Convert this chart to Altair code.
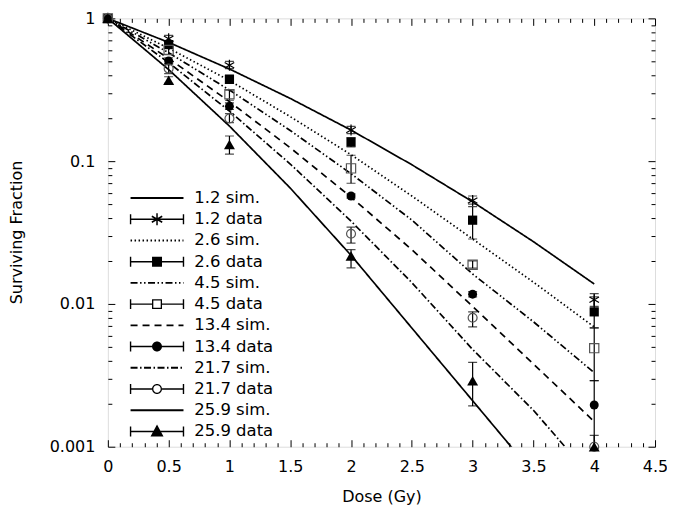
import math
import altair as alt
import pandas as pd

# ---------------- data ----------------
series = ["1.2", "2.6", "4.5", "13.4", "21.7", "25.9"]

sim_dose = [0, 0.5, 1, 1.5, 2, 2.5, 3, 3.5, 4]
sim_1_2 = [1, 0.679, 0.442, 0.275, 0.165, 0.0944, 0.0519, 0.0273, 0.0138]
sim_2_6 = [1, 0.618, 0.367, 0.205, 0.111, 0.057, 0.0285, 0.0142, 0.0069]
sim_4_5 = [1, 0.574, 0.315, 0.164, 0.0817, 0.0387, 0.0162, 0.0075, 0.0033]
sim_13_4 = [1, 0.524, 0.261, 0.124, 0.056, 0.024, 0.0096, 0.0038, 0.0015]
sim_21_7 = [1, 0.49, 0.224, 0.0955, 0.038, 0.0141, 0.0048, 0.0018, 0.00058]
sim_25_9 = [1, 0.438, 0.176, 0.0648, 0.0219, 0.00678, 0.0021, 0.00065, 0.00016]

data_dose = [0, 0.5, 1, 2, 3, 4]
data_1_2 = [1, 0.72, 0.47, 0.165, 0.053, 0.0107]
data_2_6 = [1, 0.655, 0.374, 0.136, 0.0386, 0.0088]
data_4_5 = [1, 0.60, 0.294, 0.089, 0.0188, 0.0049]
data_13_4 = [1, 0.503, 0.242, 0.057, 0.0117, 0.00196]
data_21_7 = [1, 0.445, 0.199, 0.031, 0.008, 0.001]
data_25_9 = [1, 0.368, 0.131, 0.0217, 0.0029, 0.001]

lo_1_2 = [None, 0.69, 0.445, 0.156, 0.050, 0.0096]
hi_1_2 = [None, 0.76, 0.50, 0.175, 0.057, 0.0118]
lo_2_6 = [None, 0.62, 0.35, 0.126, 0.0285, 0.0068]
hi_2_6 = [None, 0.69, 0.40, 0.146, 0.048, 0.0112]
lo_4_5 = [None, 0.56, 0.267, 0.070, 0.0178, 0.0029]
hi_4_5 = [None, 0.64, 0.314, 0.110, 0.0200, 0.0068]
lo_13_4 = [None, 0.48, 0.23, 0.055, 0.0112, 0.0009]
hi_13_4 = [None, 0.53, 0.256, 0.059, 0.0122, 0.0029]
lo_21_7 = [None, 0.41, 0.186, 0.0267, 0.0069, 0.0009]
hi_21_7 = [None, 0.48, 0.215, 0.0345, 0.0088, 0.0012]
lo_25_9 = [None, 0.35, 0.112, 0.0179, 0.00193, None]
hi_25_9 = [None, 0.39, 0.150, 0.0240, 0.0039, None]

sim_vals = [sim_1_2, sim_2_6, sim_4_5, sim_13_4, sim_21_7, sim_25_9]
data_vals = [data_1_2, data_2_6, data_4_5, data_13_4, data_21_7, data_25_9]
lo_vals = [lo_1_2, lo_2_6, lo_4_5, lo_13_4, lo_21_7, lo_25_9]
hi_vals = [hi_1_2, hi_2_6, hi_4_5, hi_13_4, hi_21_7, hi_25_9]

x_ticks = [round(i * 0.1, 1) for i in range(46)]
y_ticks = [round(m * 10.0 ** e, 6) for e in (-3, -2, -1) for m in range(1, 10)] + [1]

# ---------------- tables ----------------
sim_df = pd.DataFrame([
    {"series": s, "dose": d, "sf": v}
    for s, vals in zip(series, sim_vals) for d, v in zip(sim_dose, vals)
])
pts_df = pd.DataFrame([
    {"series": s, "dose": d, "sf": v}
    for s, vals in zip(series, data_vals) for d, v in zip(data_dose, vals)
])
err_df = pd.DataFrame([
    {"series": s, "dose": d, "lo": l, "hi": h}
    for s, ls, hs in zip(series, lo_vals, hi_vals)
    for d, l, h in zip(data_dose, ls, hs) if l is not None
])
cap_df = pd.DataFrame(
    [{"dose": r.dose, "sf": r.lo} for r in err_df.itertuples()]
    + [{"dose": r.dose, "sf": r.hi} for r in err_df.itertuples()]
)

legend_labels = []
for s in series:
    legend_labels += [f"{s} sim.", f"{s} data"]
helper_df = pd.DataFrame({"label": legend_labels, "dose": -1.0, "sf": 1e-5})

# ---------------- styles ----------------
FONT = "DejaVu Sans"
XMAJ = "abs(datum.value*2 - round(datum.value*2)) < 0.001"
YMAJ = "abs(log(datum.value)/LN10 - round(log(datum.value)/LN10)) < 0.001"

x_scale = alt.Scale(domain=[0, 4.5], nice=False, zero=False)
y_scale = alt.Scale(type="log", domain=[0.001, 1], nice=False)


def x_axis(orient, main):
    kw = dict(orient=orient, values=x_ticks, domain=False, grid=False,
              tickColor="black", tickWidth=1,
              tickSize={"expr": f"({XMAJ}) ? -7 : -4"},
              labelOverlap=False, labelFlush=False)
    if main:
        kw.update(labelExpr=f"({XMAJ}) ? format(datum.value, '~g') : ''",
                  labelPadding=19, labelFont=FONT, labelFontSize=16,
                  labelColor="black", title="Dose (Gy)", titleFont=FONT,
                  titleFontSize=16, titleFontWeight="normal", titleColor="black",
                  titleX=274, titleY=50, titleBaseline="middle")
    else:
        kw.update(labels=False, title=None)
    return alt.Axis(**kw)


def y_axis(orient, main):
    kw = dict(orient=orient, values=y_ticks, domain=False, grid=False,
              tickColor="black", tickWidth=1,
              tickSize={"expr": f"({YMAJ}) ? -7 : -4"},
              labelOverlap=False, labelFlush=False)
    if main:
        kw.update(labelExpr=f"({YMAJ}) ? format(datum.value, '~g') : ''",
                  labelPadding=20, labelFont=FONT, labelFontSize=16,
                  labelColor="black", title="Surviving Fraction", titleFont=FONT,
                  titleFontSize=16, titleFontWeight="normal", titleColor="black",
                  titleX=-91, titleY=214, titleAngle=270, titleBaseline="middle",
                  titleAlign="center")
    else:
        kw.update(labels=False, title=None)
    return alt.Axis(**kw)


XA = x_axis("bottom", True)
YA = y_axis("left", True)

dashes = {
    "1.2": [1, 0],
    "2.6": [1.5, 2.5],
    "4.5": [7, 2.5, 1.5, 2.5, 1.5, 2.5],
    "13.4": [7, 5],
    "21.7": [7, 2.5, 1.5, 2.5],
    "25.9": [1, 0],
}

layers = []
for s in series:
    layers.append(
        alt.Chart(sim_df).transform_filter(alt.datum.series == s)
        .mark_line(color="black", strokeWidth=1.7, strokeDash=dashes[s], clip=True)
        .encode(x=alt.X("dose:Q", scale=x_scale, axis=XA),
                y=alt.Y("sf:Q", scale=y_scale, axis=YA))
    )

layers.append(
    alt.Chart(err_df).mark_rule(color="black", strokeWidth=1.2, clip=True)
    .encode(x=alt.X("dose:Q", scale=x_scale, axis=XA),
            y=alt.Y("lo:Q", scale=y_scale, axis=YA), y2="hi:Q")
)
layers.append(
    alt.Chart(cap_df).mark_tick(orient="horizontal", size=9, thickness=1.2,
                                color="black", clip=True)
    .encode(x=alt.X("dose:Q", scale=x_scale, axis=XA),
            y=alt.Y("sf:Q", scale=y_scale, axis=YA))
)

AST = "M0,-1V1M-0.87,-0.5L0.87,0.5M-0.87,0.5L0.87,-0.5"
marker = {
    "1.2": dict(shape=AST, size=121, filled=False, stroke="black", strokeWidth=1.2),
    "2.6": dict(shape="square", size=85, filled=True, color="black"),
    "4.5": dict(shape="square", size=85, filled=False, stroke="#555555", strokeWidth=1.2),
    "13.4": dict(shape="circle", size=80, filled=True, color="black"),
    "21.7": dict(shape="circle", size=80, filled=False, stroke="#555555", strokeWidth=1.2),
    "25.9": dict(shape="triangle-up", size=120, filled=True, color="black"),
}
for s in series:
    layers.append(
        alt.Chart(pts_df).transform_filter(alt.datum.series == s)
        .mark_point(opacity=1, **marker[s])
        .encode(x=alt.X("dose:Q", scale=x_scale, axis=XA),
                y=alt.Y("sf:Q", scale=y_scale, axis=YA))
    )

# ---------------- legend symbols (drawn as filled outlines) ----------------
U = 6.0  # px per symbol unit (symbolSize 144)


def q(v):
    return f"{v / U:.3f}"


def rect(x0, y0, x1, y1):          # clockwise
    return f"M{q(x0)},{q(y0)}H{q(x1)}V{q(y1)}H{q(x0)}Z"


def rect_ccw(x0, y0, x1, y1):
    return f"M{q(x0)},{q(y0)}V{q(y1)}H{q(x1)}V{q(y0)}Z"


def circ(rad, sweep):
    return (f"M{q(rad)},0A{q(rad)},{q(rad)},0,1,{sweep},{q(-rad)},0"
            f"A{q(rad)},{q(rad)},0,1,{sweep},{q(rad)},0Z")


def arm(angle_deg, L, w):
    a = math.radians(angle_deg)
    dx, dy = math.cos(a), math.sin(a)
    nx, ny = -dy, dx
    pts = [(-L * dx - w * nx, -L * dy - w * ny), (L * dx - w * nx, L * dy - w * ny),
           (L * dx + w * nx, L * dy + w * ny), (-L * dx + w * nx, -L * dy + w * ny)]
    return "M" + "L".join(f"{q(x)},{q(y)}" for x, y in pts) + "Z"


BAR, CAP, LW, BW = 26.5, 5.0, 0.95, 0.7


def dashed_line(pattern):
    out, x, i = [], -BAR, 0
    while x < BAR:
        seg = pattern[i % len(pattern)]
        if i % 2 == 0:
            out.append(rect(x, -LW, min(x + seg, BAR), LW))
        x += seg
        i += 1
    return "".join(out)


def solid_line():
    return rect(-BAR, -LW, BAR, LW)


def err_bar(gap=0.0):
    caps = rect(-BAR - BW, -CAP, -BAR + BW, CAP) + rect(BAR - BW, -CAP, BAR + BW, CAP)
    if gap:
        return rect(-BAR, -BW, -gap, BW) + rect(gap, -BW, BAR, BW) + caps
    return rect(-BAR, -BW, BAR, BW) + caps


sq, rr, ow = 5.0, 5.0, 1.3
sym_asterisk = arm(90, 6, 0.75) + arm(30, 6, 0.75) + arm(150, 6, 0.75)
sym_square = rect(-sq, -sq, sq, sq)
sym_open_sq = rect(-sq, -sq, sq, sq) + rect_ccw(-sq + ow, -sq + ow, sq - ow, sq - ow)
sym_circle = circ(rr, 1)
sym_open_ci = circ(rr, 1) + circ(rr - ow, 0)
sym_tri = f"M0,{q(-7)}L{q(6.5)},{q(5)}H{q(-6.5)}Z"

data_sym = {
    "1.2": err_bar() + sym_asterisk,
    "2.6": err_bar() + sym_square,
    "4.5": err_bar(sq) + sym_open_sq,
    "13.4": err_bar() + sym_circle,
    "21.7": err_bar(rr) + sym_open_ci,
    "25.9": err_bar() + sym_tri,
}
sim_sym = {
    "1.2": solid_line(),
    "2.6": dashed_line([1.5, 2.5]),
    "4.5": dashed_line([7, 2.5, 1.5, 2.5, 1.5, 2.5]),
    "13.4": dashed_line([7, 5]),
    "21.7": dashed_line([7, 2.5, 1.5, 2.5]),
    "25.9": solid_line(),
}
shape_range = []
for s in series:
    shape_range += [sim_sym[s], data_sym[s]]

leg = alt.Legend(orient="none", legendX=41, legendY=171.7, title=None,
                 symbolSize=144, symbolStrokeWidth=0, symbolFillColor="black",
                 labelFont=FONT, labelFontSize=16.5, labelColor="black",
                 labelOffset=29, rowPadding=4.25, padding=0, symbolOffset=0)

layers.append(
    alt.Chart(helper_df)
    .mark_point(filled=True, fill="black", opacity=1, clip=True)
    .encode(
        x=alt.X("dose:Q", scale=x_scale, axis=XA),
        y=alt.Y("sf:Q", scale=y_scale, axis=YA),
        shape=alt.Shape("label:N", scale=alt.Scale(domain=legend_labels, range=shape_range),
                        legend=leg, sort=legend_labels),
    )
)

inner = alt.layer(*layers)

frame_axes = (
    alt.Chart(sim_df).mark_point(opacity=0)
    .encode(x=alt.X("dose:Q", scale=x_scale, axis=x_axis("top", False)),
            y=alt.Y("sf:Q", scale=y_scale, axis=y_axis("right", False)))
)

chart = (
    alt.layer(inner, frame_axes)
    .resolve_axis(x="independent", y="independent")
    .properties(width=548, height=429,
                autosize=alt.AutoSizeParams(type="none"),
                padding={"left": 100, "top": 10, "right": 12, "bottom": 64})
    .configure_view(stroke="black", strokeWidth=1)
    .configure(background="white")
)

chart.save("out.html", embed_options={"renderer": "svg", "actions": False})
